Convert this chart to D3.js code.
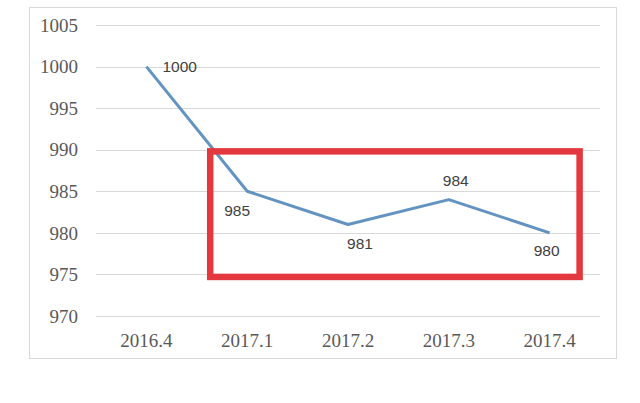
<!DOCTYPE html>
<html><head><meta charset="utf-8">
<script src="https://cdn.jsdelivr.net/npm/d3@7"></script>
<style>html,body{margin:0;padding:0;background:#fff;}svg{display:block;}</style>
</head><body>
<svg id="c" width="640" height="403"></svg>
<script>
const categories = ["2016.4","2017.1","2017.2","2017.3","2017.4"];
const values = [1000, 985, 981, 984, 980];
const yTicks = [970, 975, 980, 985, 990, 995, 1000, 1005];
// highlight box (value range and category span)
const boxValues = [989.8, 974.7];
const boxCats = ["2017.1","2017.4"];

// label placement (layout only)
const labelOffsets = [[16,0,"start"],[-10,19,"middle"],[12,19,"middle"],[7,-19,"middle"],[-3,18,"middle"]];

const svg = d3.select("#c");
const x = d3.scaleBand().domain(categories).range([96,600]).padding(0);
const y = d3.scaleLinear().domain([970,1005]).range([316,25]);
const cx = c => x(c) + x.bandwidth()/2;

svg.append("rect").attr("x",29.5).attr("y",7.5).attr("width",587).attr("height",351)
  .attr("fill","#fff").attr("stroke","#d9d9d9").attr("stroke-width",1);

svg.append("g").selectAll("line").data(yTicks).join("line")
  .attr("x1",96).attr("x2",600).attr("y1",d=>Math.round(y(d))+0.5).attr("y2",d=>Math.round(y(d))+0.5)
  .attr("stroke","#d9d9d9").attr("stroke-width",1);

svg.append("g").selectAll("text").data(yTicks).join("text")
  .attr("x",78).attr("y",d=>y(d)).attr("dy","0.35em").attr("text-anchor","end")
  .attr("font-family","'Liberation Serif','Times New Roman',serif").attr("font-size",19)
  .attr("fill","#595959").text(d=>d);

svg.append("g").selectAll("text").data(categories).join("text")
  .attr("x",d=>cx(d)).attr("y",347).attr("text-anchor","middle")
  .attr("font-family","'Liberation Serif','Times New Roman',serif").attr("font-size",19)
  .attr("fill","#595959").text(d=>d);

const line = d3.line().x((d,i)=>cx(categories[i])).y(d=>y(d));
svg.append("path").datum(values).attr("d",line).attr("fill","none")
  .attr("stroke","#6393c0").attr("stroke-width",3).attr("stroke-linejoin","round");

svg.append("g").selectAll("text").data(values).join("text")
  .attr("x",(d,i)=>cx(categories[i])+labelOffsets[i][0])
  .attr("y",(d,i)=>y(d)+labelOffsets[i][1]).attr("dy","0.35em")
  .attr("text-anchor",(d,i)=>labelOffsets[i][2])
  .attr("font-family","'Liberation Sans',Arial,sans-serif").attr("font-size",15.5)
  .attr("fill","#404040").text(d=>d);

const bx0 = cx(boxCats[0]) - 37, bx1 = cx(boxCats[1]) + 30;
svg.append("rect").attr("x",bx0).attr("y",y(boxValues[0]))
  .attr("width",bx1-bx0).attr("height",y(boxValues[1])-y(boxValues[0]))
  .attr("fill","none").attr("stroke","#e2383e").attr("stroke-width",6.5);
</script>
</body></html>
